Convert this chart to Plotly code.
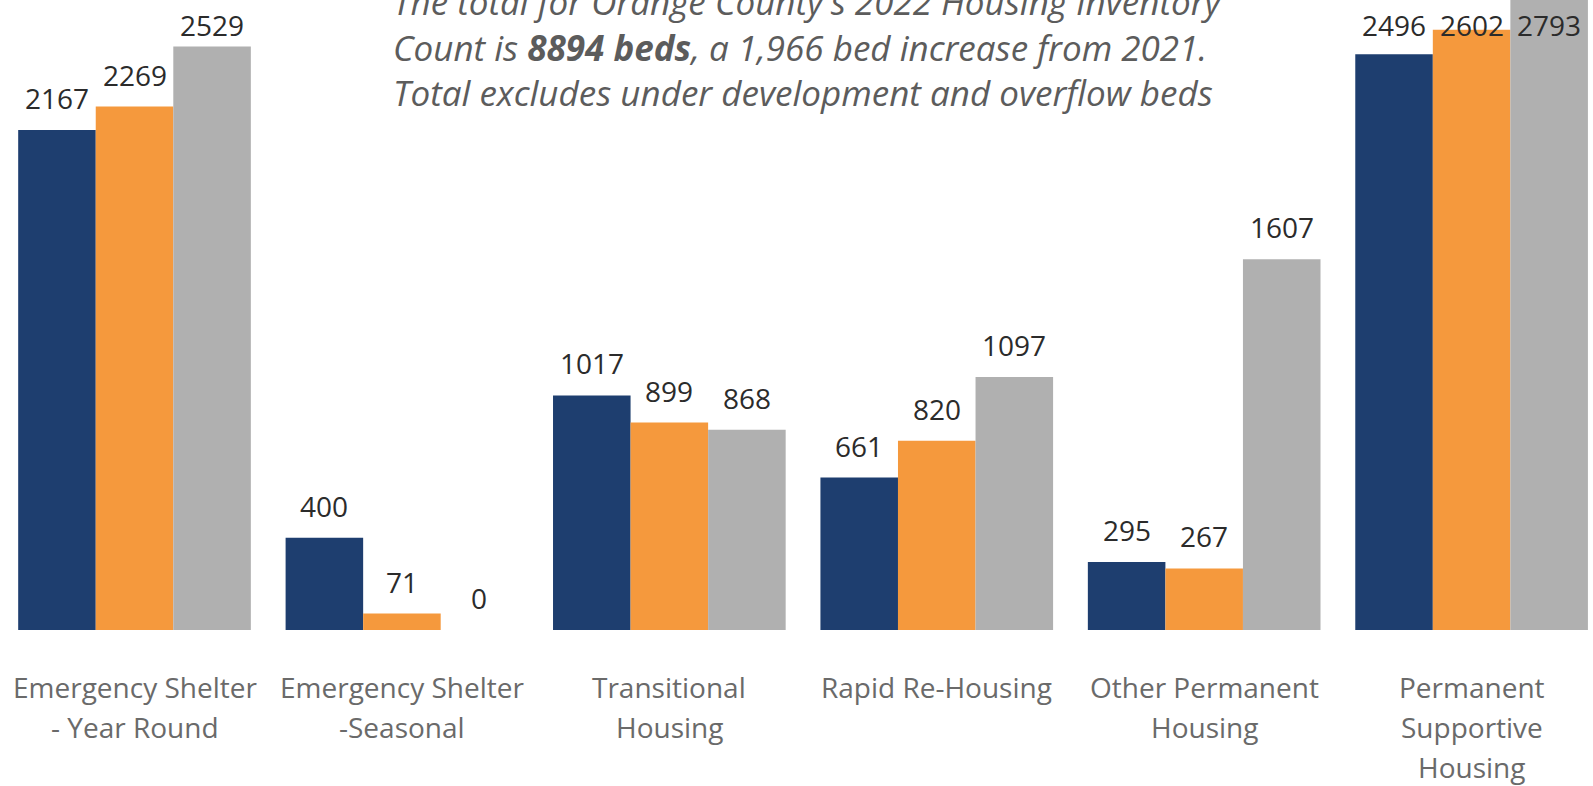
import plotly.graph_objects as go

# ---- data ----
categories = [
    "Emergency Shelter<br>- Year Round",
    "Emergency Shelter<br>-Seasonal",
    "Transitional<br>Housing",
    "Rapid Re-Housing",
    "Other Permanent<br>Housing",
    "Permanent<br>Supportive<br>Housing",
]
series_names = ["2020", "2021", "2022"]
values_2020 = [2167, 400, 1017, 661, 295, 2496]
values_2021 = [2269, 71, 899, 820, 267, 2602]
values_2022 = [2529, 0, 868, 1097, 1607, 2793]
title_lines = [
    "<i>The total for Orange County's 2022 Housing Inventory</i>",
    "<i>Count is <b>8894 beds</b>, a 1,966 bed increase from 2021.</i>",
    "<i>Total excludes under development and overflow beds</i>",
]

# ---- style ----
colors = ["#1e3e6f", "#f5993d", "#b0b0b0"]
W, H = 1593, 786
plot_h = 630
bottom = H - plot_h
ymax = 2731
bargap = 0.13
px_per_unit = plot_h / ymax
label_font = dict(family="Open Sans, sans-serif", size=28, color="#2b2b2b")
cat_font = dict(family="Open Sans, sans-serif", size=28, color="#6a6a6a")
title_font = dict(family="Open Sans, sans-serif", size=35, color="#5c5c5c")

all_values = [values_2020, values_2021, values_2022]
xs = list(range(len(categories)))

fig = go.Figure()
for name, vals, col in zip(series_names, all_values, colors):
    fig.add_trace(go.Bar(x=xs, y=vals, name=name, hoverinfo="skip",
                         marker=dict(color=col, line=dict(width=0))))

annotations = []
n_series = len(all_values)
bar_w = (1 - bargap) / n_series
for j, vals in enumerate(all_values):
    for i, v in enumerate(vals):
        xpos = i + (j - (n_series - 1) / 2) * bar_w
        top_px = plot_h - v * px_per_unit
        if top_px - 32 < 25:
            annotations.append(dict(x=xpos, y=ymax, xref="x", yref="y", text=str(v),
                                    showarrow=False, yanchor="middle", yshift=-25,
                                    font=label_font))
        else:
            annotations.append(dict(x=xpos, y=v, xref="x", yref="y", text=str(v),
                                    showarrow=False, yanchor="middle", yshift=32,
                                    font=label_font))

# category labels, one annotation per line for wider line spacing
for i, cat in enumerate(categories):
    for k, line in enumerate(cat.split("<br>")):
        annotations.append(dict(x=i, y=0, xref="x", yref="y", text=line, showarrow=False,
                                yanchor="middle", yshift=-57 - 40 * k, font=cat_font))

# title text block
annotations.append(dict(x=391 / W, y=1, xref="paper", yref="paper",
                        text="<br>".join(title_lines), align="left",
                        showarrow=False, xanchor="left", yanchor="middle",
                        yshift=-47, font=title_font))

fig.update_layout(
    width=W, height=H,
    margin=dict(l=0, r=0, t=0, b=bottom, pad=0),
    paper_bgcolor="white", plot_bgcolor="white",
    barmode="group", bargap=bargap, bargroupgap=0,
    showlegend=False,
    xaxis=dict(range=[-0.503, 5.454], showticklabels=False, showgrid=False,
               zeroline=False, showline=False, ticks=""),
    yaxis=dict(range=[0, ymax], showticklabels=False, showgrid=False,
               zeroline=False, showline=False, ticks=""),
    annotations=annotations,
)

fig.write_html(
    "out.html",
    config={"displayModeBar": False},
    post_script="document.body.style.margin='0';document.body.style.overflow='hidden';",
)
